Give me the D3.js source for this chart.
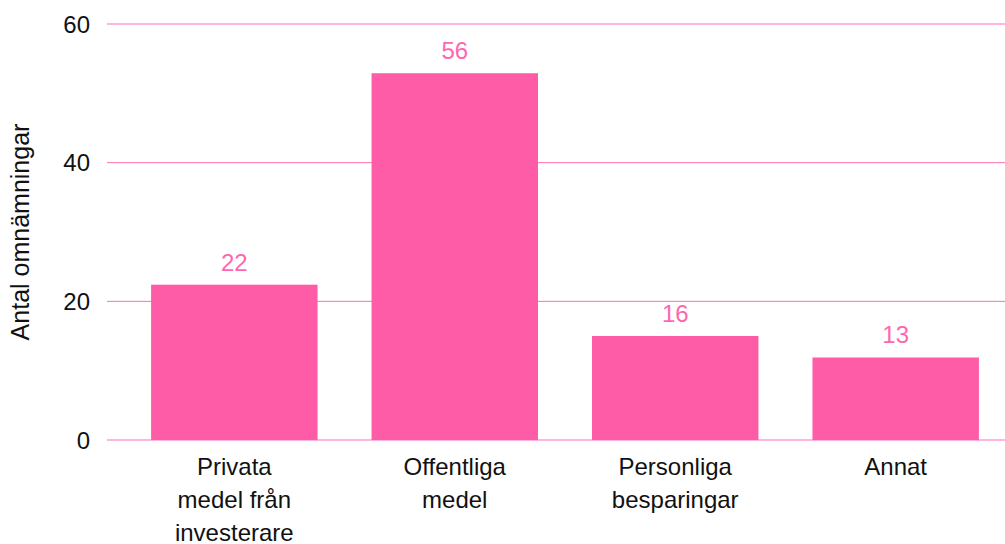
<!DOCTYPE html>
<meta charset="utf-8">
<style>
  body { margin: 0; background: #fff; }
  text { font-family: "Helvetica Neue", Helvetica, "Liberation Sans", Arial, sans-serif; }
</style>
<svg width="1005" height="544"></svg>
<script src="https://d3js.org/d3.v7.min.js"></script>
<script>

var categories = [["Privata", "medel från", "investerare"], ["Offentliga", "medel"], ["Personliga", "besparingar"], ["Annat"]];
var values = [22.4, 52.9, 15.0, 11.9];
var valueLabels = ["22", "56", "16", "13"];
var yTicks = [0, 20, 40, 60];

var svg = d3.select("svg"),
    plotLeft = 107,
    plotRight = 1005,
    plotTop = 24,
    plotBottom = 440;

var x = d3.scaleBand()
    .domain(d3.range(categories.length))
    .range([plotLeft, 1023])
    .paddingInner(0.245)
    .paddingOuter(0.2);

var y = d3.scaleLinear()
    .domain([0, 60])
    .range([plotBottom, plotTop]);

// gridlines + tick labels
var grid = svg.append("g");
grid.selectAll("line")
    .data(yTicks)
  .enter().append("line")
    .attr("x1", plotLeft)
    .attr("x2", plotRight)
    .attr("y1", function(d) { return y(d); })
    .attr("y2", function(d) { return y(d); })
    .attr("stroke", "#ff6fb3")
    .attr("stroke-width", 1);

grid.selectAll("text")
    .data(yTicks)
  .enter().append("text")
    .attr("x", 90)
    .attr("y", function(d) { return y(d); })
    .attr("dy", "0.36em")
    .attr("text-anchor", "end")
    .style("font-size", "24px")
    .attr("fill", "#111")
    .text(function(d) { return d; });

svg.append("text")
    .attr("transform", "translate(29," + (plotTop + plotBottom) / 2 + ") rotate(-90)")
    .attr("text-anchor", "middle")
    .style("font-size", "25px")
    .attr("fill", "#111")
    .text("Antal omnämningar");

// bars
svg.selectAll(".bar")
    .data(values)
  .enter().append("rect")
    .attr("class", "bar")
    .attr("x", function(d, i) { return x(i); })
    .attr("width", x.bandwidth())
    .attr("y", function(d) { return y(d); })
    .attr("height", function(d) { return y(0) - y(d); })
    .attr("fill", "#ff5ca8");

svg.selectAll(".val")
    .data(values)
  .enter().append("text")
    .attr("class", "val")
    .attr("x", function(d, i) { return x(i) + x.bandwidth() / 2; })
    .attr("y", function(d) { return y(d) - 14; })
    .attr("text-anchor", "middle")
    .style("font-size", "24px")
    .attr("fill", "#ff66b0")
    .text(function(d, i) { return valueLabels[i]; });

// category labels
var cat = svg.selectAll(".cat")
    .data(categories)
  .enter().append("text")
    .attr("class", "cat")
    .attr("text-anchor", "middle")
    .style("font-size", "24px")
    .attr("fill", "#111");

cat.selectAll("tspan")
    .data(function(d, i) { return d.map(function(s) { return {s: s, i: i}; }); })
  .enter().append("tspan")
    .attr("x", function(d) { return x(d.i) + x.bandwidth() / 2; })
    .attr("y", function(d, j) { return 475 + j * 33; })
    .text(function(d) { return d.s; });

</script>
